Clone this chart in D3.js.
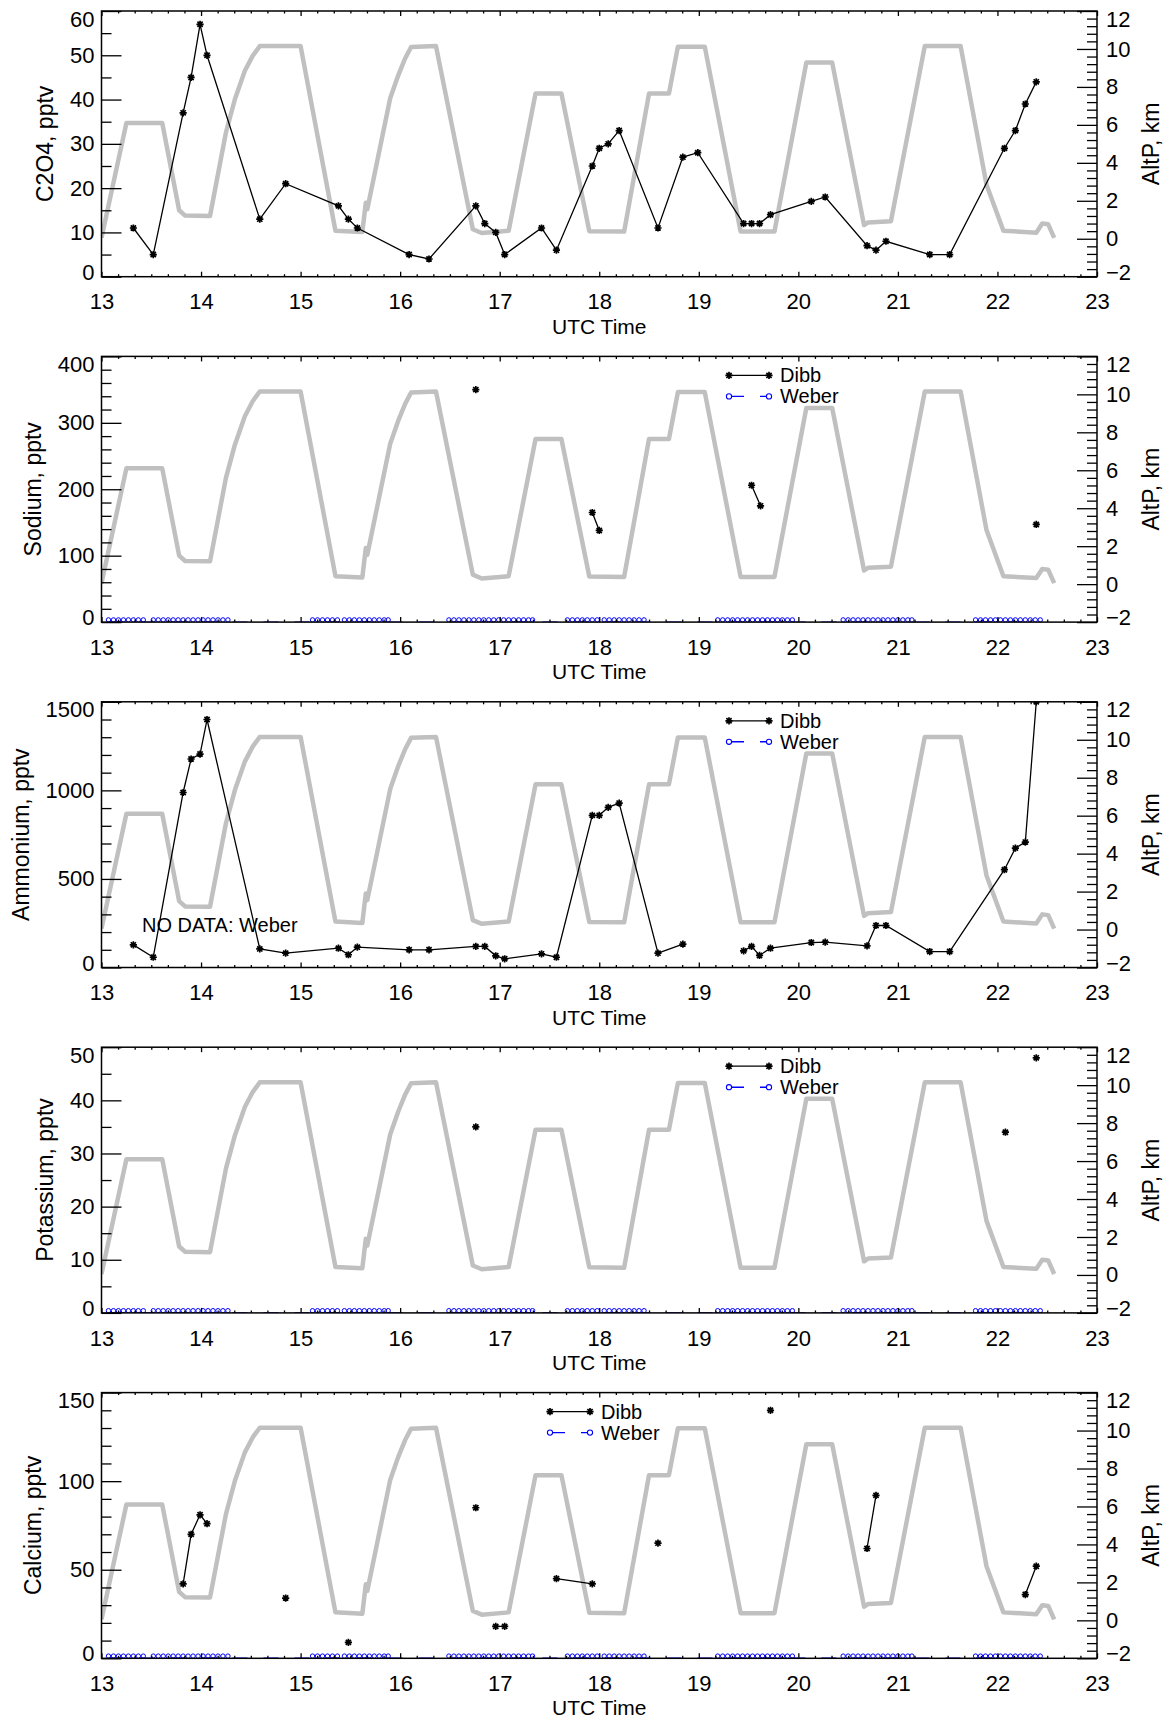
<!DOCTYPE html>
<html><head><meta charset="utf-8">
<script src="https://cdn.jsdelivr.net/npm/d3@7"></script>
<style>
body{margin:0;background:#fff}
svg{display:block}
text{font-family:"Liberation Sans",Arial,sans-serif;fill:#000}
</style></head>
<body><svg id="c" width="1166" height="1720"></svg>
<script>
// ---------------- DATA ----------------
const xTicks = [13,14,15,16,17,18,19,20,21,22,23];
const rightTicks = [-2,0,2,4,6,8,10,12];

// Aircraft pressure altitude (km) vs UTC hour
const altTime = [13.00,13.25,13.61,13.78,13.84,14.09,14.17,14.25,14.34,14.44,14.52,14.59,15.00,15.35,15.62,15.655,15.67,15.90,15.98,16.05,16.11,16.36,16.73,16.82,17.09,17.36,17.62,17.90,18.25,18.50,18.70,18.79,19.06,19.42,19.76,20.08,20.34,20.66,20.70,20.93,21.27,21.63,21.89,22.06,22.39,22.45,22.51,22.57];
const altKm   = [0.05, 6.10, 6.10, 1.50, 1.22, 1.20, 3.40, 5.60, 7.35, 8.85, 9.65, 10.15,10.15,0.42, 0.35, 1.90,  1.55, 7.40, 8.60, 9.50, 10.10,10.15,0.50, 0.30, 0.42, 7.65, 7.65, 0.40, 0.38, 7.65, 7.65, 10.12,10.12,0.38, 0.38, 9.28, 9.28, 0.72, 0.86, 0.92, 10.15,10.15,2.85, 0.42, 0.32, 0.80, 0.76, 0.05];

// Dibb (black) series; null breaks the line
const c2o4Time = [13.32,13.52,13.82,13.90,13.99,14.06,14.59,14.85,15.38,15.48,15.57,16.09,16.29,16.76,16.85,16.96,17.05,17.42,17.57,17.93,18.00,18.09,18.20,18.59,18.84,18.99,19.45,19.53,19.61,19.72,20.13,20.27,20.69,20.78,20.88,21.32,21.52,22.07,22.18,22.28,22.39];
const c2o4Val  = [11,5,37,45,57,50,13,21,16,13,11,5,4,16,12,10,5,11,6,25,29,30,33,11,27,28,12,12,12,14,17,18,7,6,8,5,5,29,33,39,44];

const sodiumTime = [16.76,null,17.93,18.00,null,19.53,19.62,null,22.39];
const sodiumVal  = [350,null,165,138,null,206,175,null,147];

const ammoniumTime = [13.32,13.52,13.82,13.90,13.99,14.06,14.59,14.85,15.38,15.48,15.57,16.09,16.29,16.76,16.85,16.96,17.05,17.42,17.57,17.93,18.00,18.09,18.20,18.59,18.84,null,19.45,19.53,19.61,19.72,20.13,20.27,20.69,20.78,20.88,21.32,21.52,22.07,22.18,22.28,22.39];
const ammoniumVal  = [128,58,988,1177,1205,1400,105,81,109,72,115,100,100,119,119,66,49,77,58,859,859,904,928,81,132,null,94,119,68,109,141,143,122,237,237,90,90,552,674,708,1500];

const potassiumTime = [16.76,null,22.08,null,22.39];
const potassiumVal  = [35,null,34,null,48];

const calciumTime = [13.82,13.90,13.99,14.06,null,14.85,null,15.48,null,16.76,null,16.96,17.05,null,17.57,17.93,null,18.59,null,19.72,null,20.69,20.78,null,22.28,22.39];
const calciumVal  = [42,70,81,76,null,34,null,9,null,85,null,18,18,null,45,42,null,65,null,140,null,62,92,null,36,52];

// Weber (blue) samples, all at zero
const weberTime = [13.07,13.12,13.17,13.22,13.27,13.32,13.37,13.42,
 13.52,13.57,13.62,13.67,13.72,13.77,13.82,13.87,13.92,13.97,14.02,14.07,14.12,14.17,14.22,14.27,
 15.12,15.17,15.22,15.27,15.32,15.37,
 15.44,15.49,15.54,15.59,15.64,15.69,15.74,15.79,15.84,15.88,
 16.49,16.54,16.59,16.64,16.69,16.74,16.79,16.84,16.89,16.94,16.99,17.04,17.09,17.14,17.19,17.24,17.29,17.33,
 17.68,17.73,17.78,17.83,17.88,17.93,17.98,
 18.05,18.10,18.15,18.20,18.25,18.30,18.35,18.40,18.45,
 19.19,19.24,19.29,19.34,19.39,19.44,19.49,19.54,19.59,19.64,19.69,19.74,19.79,19.84,19.89,19.94,
 20.45,20.50,20.55,20.60,20.65,20.70,20.75,20.80,20.85,20.90,20.95,21.00,21.05,21.10,21.14,
 21.78,21.83,21.88,21.93,21.98,22.03,22.08,22.13,22.18,22.23,22.28,22.33,22.38,22.43];
const weberVal = weberTime.map(() => 0);

const panelTitles = ["C2O4, pptv","Sodium, pptv","Ammonium, pptv","Potassium, pptv","Calcium, pptv"];
const leftMax     = [60,400,1500,50,150];
const leftTicks   = [[0,10,20,30,40,50,60],[0,100,200,300,400],[0,500,1000,1500],[0,10,20,30,40,50],[0,50,100,150]];
const leftMinor   = [5,20,100,5,10];
const seriesTime  = [c2o4Time,sodiumTime,ammoniumTime,potassiumTime,calciumTime];
const seriesVal   = [c2o4Val,sodiumVal,ammoniumVal,potassiumVal,calciumVal];
const hasWeber    = [false,true,false,true,true];
const hasLegend   = [false,true,true,true,true];
const legendNames = ["Dibb","Weber"];

// ---------------- LAYOUT ----------------
const svg = d3.select("#c");
const xL = 101.5, xR = 1097;
const top0 = 11, step = 345.4, plotH = 265.7;
const legendX = [0,729,729,729,550];
const GRAY = "#c0c0c0", BLUE = "#0000ff";
const TICKFS = 22, TITLEFS = 23;
const x = d3.scaleLinear().domain([13,23]).range([xL,xR]);
const xMinor = d3.range(13,23.0001,1/6).filter(v => Math.abs(v-Math.round(v))>1e-6);

const star = "M-3.6,0H3.6M0,-3.6V3.6M-2.6,-2.6L2.6,2.6M-2.6,2.6L2.6,-2.6";

function styleAxis(g){
  g.select(".domain").remove();
  g.selectAll(".tick line").attr("stroke","#000").attr("stroke-width",1.3);
  g.selectAll("text").attr("font-size",TICKFS).attr("fill","#000").attr("font-family","Liberation Sans, Arial, sans-serif");
}

panelTitles.forEach((title,i) => {
  const top = top0 + i*step, bot = top + plotH;
  const yL = d3.scaleLinear().domain([0,leftMax[i]]).range([bot,top]);
  const yR = d3.scaleLinear().domain([-2,12]).range([bot,top]);
  const g = svg.append("g");

  const cid = "clip"+i;
  svg.append("clipPath").attr("id",cid).append("rect")
    .attr("x",xL).attr("y",top).attr("width",xR-xL).attr("height",plotH);
  const data = g.append("g").attr("clip-path",`url(#${cid})`);

  // altitude
  const alt = altTime.map((t,k)=>({t,v:altKm[k]}));
  data.append("path").datum(alt)
    .attr("d",d3.line().x(d=>x(d.t)).y(d=>yR(d.v)))
    .attr("fill","none").attr("stroke",GRAY).attr("stroke-width",4.5).attr("stroke-linejoin","round");

  // Weber
  if (hasWeber[i]) {
    const wd = weberTime.map((t,k)=>({t,v:weberVal[k]}));
    data.append("path").datum(wd)
      .attr("d",d3.line().x(d=>x(d.t)).y(d=>yL(d.v)))
      .attr("fill","none").attr("stroke",BLUE).attr("stroke-width",1.4).attr("stroke-dasharray","15,16");
    data.selectAll(".wc").data(wd).enter().append("circle")
      .attr("cx",d=>x(d.t)).attr("cy",d=>yL(d.v)-2.2).attr("r",2.2)
      .attr("fill","none").attr("stroke",BLUE).attr("stroke-width",1);
  }

  // Dibb
  const dd = seriesTime[i].map((t,k)=>({t,v:seriesVal[i][k]}));
  data.append("path").datum(dd)
    .attr("d",d3.line().defined(d=>d.v!=null).x(d=>x(d.t)).y(d=>yL(d.v)))
    .attr("fill","none").attr("stroke","#000").attr("stroke-width",1.3);
  data.selectAll(".st").data(dd.filter(d=>d.v!=null)).enter().append("path")
    .attr("d",star).attr("transform",d=>`translate(${x(d.t)},${yL(d.v)})`)
    .attr("stroke","#000").attr("stroke-width",1.7).attr("fill","none");

  // axes
  const gb = g.append("g").attr("transform",`translate(0,${bot})`)
    .call(d3.axisBottom(x).tickValues(xTicks).tickFormat(d3.format("d")).tickSize(-5).tickPadding(17));
  styleAxis(gb);
  styleAxis(g.append("g").attr("transform",`translate(0,${bot})`)
    .call(d3.axisBottom(x).tickValues(xMinor).tickFormat("").tickSize(-2.5)));
  styleAxis(g.append("g").attr("transform",`translate(0,${top})`)
    .call(d3.axisTop(x).tickValues(xTicks).tickFormat("").tickSize(-5)));
  styleAxis(g.append("g").attr("transform",`translate(0,${top})`)
    .call(d3.axisTop(x).tickValues(xMinor).tickFormat("").tickSize(-2.5)));

  const lMinor = d3.range(0,leftMax[i]+1e-9,leftMinor[i]).filter(v=>!leftTicks[i].includes(v));
  const gl = g.append("g").attr("transform",`translate(${xL},0)`)
    .call(d3.axisLeft(yL).tickValues(leftTicks[i]).tickFormat(d3.format("d")).tickSize(-20).tickPadding(7));
  styleAxis(gl);
  gl.selectAll(".tick text").attr("y",d=> d===leftMax[i]?8:(d===0?-4.5:0));
  let maxW = 0;
  gl.selectAll(".tick text").each(function(){ maxW = Math.max(maxW, this.getComputedTextLength()); });
  styleAxis(g.append("g").attr("transform",`translate(${xL},0)`)
    .call(d3.axisLeft(yL).tickValues(lMinor).tickFormat("").tickSize(-10)));

  const rMinor = d3.range(-2,12.0001,0.4).filter(v=>Math.abs(v/2-Math.round(v/2))>1e-6);
  const gr = g.append("g").attr("transform",`translate(${xR},0)`)
    .call(d3.axisRight(yR).tickValues(rightTicks).tickFormat(d=>d<0?"\u2212"+Math.abs(d):d).tickSize(-20).tickPadding(9));
  styleAxis(gr);
  gr.selectAll(".tick text").attr("y",d=> d===12?8:(d===-2?-4.5:0));
  styleAxis(g.append("g").attr("transform",`translate(${xR},0)`)
    .call(d3.axisRight(yR).tickValues(rMinor).tickFormat("").tickSize(-10)));

  // frame
  g.append("rect").attr("x",xL).attr("y",top).attr("width",xR-xL).attr("height",plotH)
    .attr("fill","none").attr("stroke","#000").attr("stroke-width",1.5);

  // titles
  g.append("text").attr("x",(xL+xR)/2).attr("y",bot+57).attr("text-anchor","middle")
    .attr("font-size",21).text("UTC Time");
  const tx = xL - 7 - maxW - 25;
  g.append("text").attr("transform",`translate(${tx},${(top+bot)/2}) rotate(-90)`)
    .attr("text-anchor","middle").attr("dominant-baseline","central").attr("font-size",TITLEFS).text(title);
  g.append("text").attr("transform",`translate(1151,${(top+bot)/2}) rotate(-90)`)
    .attr("text-anchor","middle").attr("dominant-baseline","central").attr("font-size",TITLEFS).text("AltP, km");

  // legend
  if (hasLegend[i]) {
    const lx = legendX[i], ly1 = top+19, ly2 = top+40;
    g.append("line").attr("x1",lx).attr("x2",lx+40).attr("y1",ly1).attr("y2",ly1)
      .attr("stroke","#000").attr("stroke-width",1.3);
    [lx,lx+40].forEach(px => g.append("path").attr("d",star).attr("transform",`translate(${px},${ly1})`)
      .attr("stroke","#000").attr("stroke-width",1.7));
    g.append("text").attr("x",lx+11+40).attr("y",ly1).attr("dominant-baseline","central")
      .attr("font-size",20).text(legendNames[0]);
    g.append("line").attr("x1",lx).attr("x2",lx+40).attr("y1",ly2).attr("y2",ly2)
      .attr("stroke",BLUE).attr("stroke-width",1.4).attr("stroke-dasharray","15,16");
    [lx,lx+40].forEach(px => g.append("circle").attr("cx",px).attr("cy",ly2).attr("r",2.6)
      .attr("fill","#fff").attr("stroke",BLUE).attr("stroke-width",1.1));
    g.append("text").attr("x",lx+11+40).attr("y",ly2).attr("dominant-baseline","central")
      .attr("font-size",20).text(legendNames[1]);
  }
  if (i===2) {
    g.append("text").attr("x",142).attr("y",top+230.5).attr("font-size",20).text("NO DATA: Weber");
  }
});
</script>
</body></html>
